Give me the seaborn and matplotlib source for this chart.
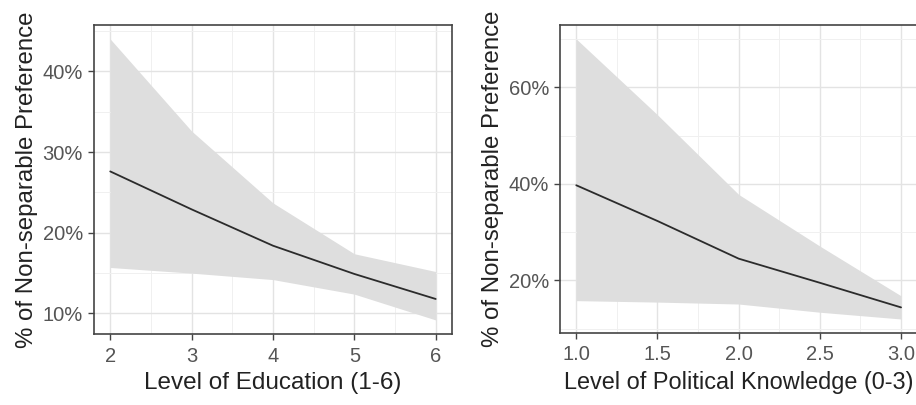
import pandas as pd
import matplotlib
matplotlib.use("Agg")
import matplotlib.pyplot as plt
import seaborn as sns
from matplotlib.ticker import MultipleLocator, FuncFormatter

# values (percent)
edu_level = [2, 3, 4, 5, 6]
edu_fit = [27.6, 22.9, 18.4, 14.9, 11.8]
edu_upper = [44.0, 32.6, 23.7, 17.4, 15.2]
edu_lower = [15.7, 15.0, 14.2, 12.4, 9.2]

know_level = [1.0, 1.5, 2.0, 2.5, 3.0]
know_fit = [39.7, 32.3, 24.5, 19.5, 14.4]
know_upper = [70.0, 54.3, 37.8, 27.1, 16.8]
know_lower = [15.8, 15.5, 15.1, 13.4, 12.0]

edu = pd.DataFrame({"level": edu_level, "fit": edu_fit, "upper": edu_upper, "lower": edu_lower})
know = pd.DataFrame({"level": know_level, "fit": know_fit, "upper": know_upper, "lower": know_lower})

sns.set_theme(style="whitegrid")
plt.rcParams["font.family"] = ["Liberation Sans", "DejaVu Sans"]

fig = plt.figure(figsize=(9.16, 4.05), dpi=100)
ax1 = fig.add_axes([0.1026, 0.1753, 0.3908, 0.763])
ax2 = fig.add_axes([0.6114, 0.1778, 0.3900, 0.7605])


def panel(ax, df, xlabel, xmaj, xmin_step, ymaj, ymin_step, xfmt, xlabel_size):
    ax.fill_between(df["level"], df["lower"], df["upper"], color="#DEDEDE", lw=0, zorder=2)
    sns.lineplot(data=df, x="level", y="fit", ax=ax, color="#2b2b2b", lw=1.3, zorder=3)
    lo = df["lower"].min()
    hi = df["upper"].max()
    pad = (hi - lo) * 0.05
    ax.set_ylim(lo - pad, hi + pad)
    xr = df["level"].max() - df["level"].min()
    ax.set_xlim(df["level"].min() - xr * 0.05, df["level"].max() + xr * 0.05)
    ax.xaxis.set_major_locator(MultipleLocator(xmaj))
    ax.xaxis.set_minor_locator(MultipleLocator(xmin_step))
    ax.yaxis.set_major_locator(MultipleLocator(ymaj))
    ax.yaxis.set_minor_locator(MultipleLocator(ymin_step))
    ax.xaxis.set_major_formatter(FuncFormatter(xfmt))
    ax.yaxis.set_major_formatter(FuncFormatter(lambda v, p: f"{v:.0f}%"))
    ax.grid(which="major", color="#E3E3E3", lw=1.0)
    ax.grid(which="minor", color="#F0F0F0", lw=0.7)
    ax.set_axisbelow(True)
    for s in ax.spines.values():
        s.set_color("#444444")
        s.set_linewidth(1.2)
    ax.tick_params(axis="both", which="major", direction="out", length=4, width=1,
                   color="#444444", labelcolor="#555555", labelsize=14.5,
                   bottom=True, left=True)
    ax.tick_params(axis="x", which="major", pad=5)
    ax.tick_params(axis="y", which="major", pad=4)
    ax.tick_params(which="minor", length=0)
    ax.set_xlabel(xlabel, fontsize=xlabel_size, color="#222222", labelpad=5)
    ax.set_ylabel("% of Non-separable Preference", fontsize=17.3, color="#222222", labelpad=3)


panel(ax1, edu, "Level of Education (1-6)", 1, 0.5, 10, 5, lambda v, p: f"{v:.0f}", 17.5)
panel(ax2, know, "Level of Political Knowledge (0-3)", 0.5, 0.25, 20, 10, lambda v, p: f"{v:.1f}", 16.9)

fig.savefig("out.png", dpi=100)
